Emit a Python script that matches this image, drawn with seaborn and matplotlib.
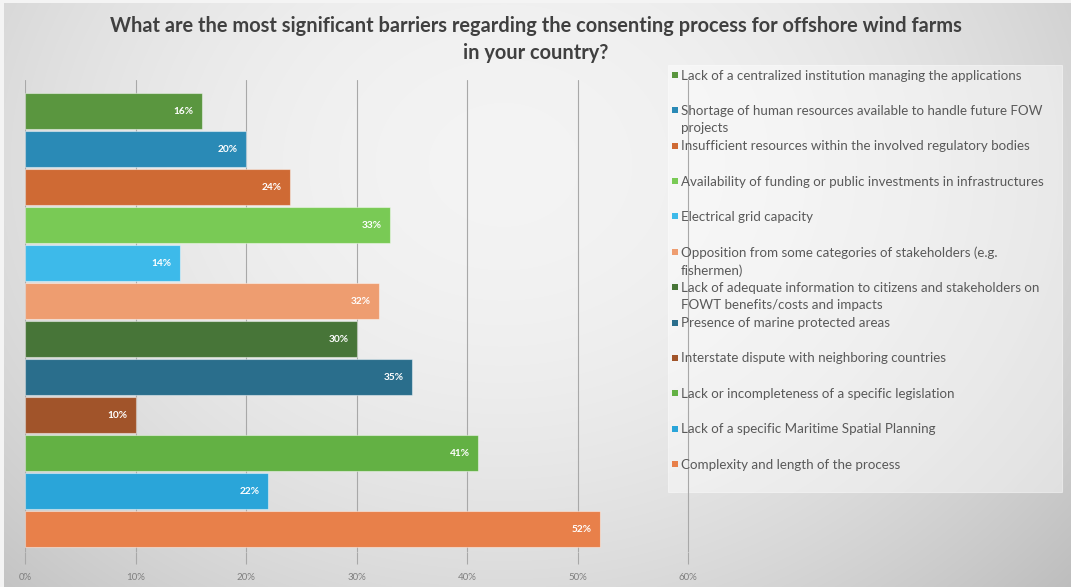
import numpy as np
import pandas as pd
import matplotlib
matplotlib.use("Agg")
import matplotlib.pyplot as plt
from matplotlib.patches import Rectangle
import seaborn as sns

# Survey results: share of respondents naming each barrier (%)
barriers = [
    "Lack of a centralized institution managing the applications",
    "Shortage of human resources available to handle future FOW\nprojects",
    "Insufficient resources within the involved regulatory bodies",
    "Availability of funding or public investments in infrastructures",
    "Electrical grid capacity",
    "Opposition from some categories of stakeholders (e.g.\nfishermen)",
    "Lack of adequate information to citizens and stakeholders on\nFOWT benefits/costs and impacts",
    "Presence of marine protected areas",
    "Interstate dispute with neighboring countries",
    "Lack or incompleteness of a specific legislation",
    "Lack of a specific Maritime Spatial Planning",
    "Complexity and length of the process",
]
shares = [16, 20, 24, 33, 14, 32, 30, 35, 10, 41, 22, 52]
bar_colors = [
    "#5a963f", "#2a8ab6", "#cf6a34", "#79ca55", "#3dbaea", "#ee9d70",
    "#477538", "#2a6e8c", "#a1542a", "#63b144", "#2aa5d9", "#e8804a",
]
x_ticks = [0, 10, 20, 30, 40, 50, 60]

df = pd.DataFrame({"barrier": barriers, "share": shares})

sns.set_theme(style="white")
plt.rcParams["font.family"] = ["Lato", "DejaVu Sans"]

W, H = 1071, 587
fig = plt.figure(figsize=(W / 100, H / 100), dpi=100)

# soft grey slide background, brighter towards the middle
bg = fig.add_axes([0, 0, 1, 1], zorder=-10)
yy, xx = np.mgrid[0:H, 0:W]
rx = (xx - W * 0.47) / (W * 0.60)
ry = (yy - H * 0.28) / (H * 0.90)
r2 = rx ** 2 + ry ** 2
shade = np.clip(0.955 - 0.15 * r2, 0.74, 1.0)
rgb = np.dstack([shade, shade, shade])
bg.imshow(rgb, aspect="auto", extent=(0, 1, 0, 1), interpolation="bilinear")
bg.set_axis_off()

def fx(px):
    return px / W

def fy(py):
    return 1 - py / H

# pale slide margin along the top and left edges
fig.patches.append(Rectangle((0, fy(3)), 1, 3 / H, transform=fig.transFigure,
                             facecolor="#f4f4f4", edgecolor="none", zorder=-5))
fig.patches.append(Rectangle((0, 0), 4 / W, 1, transform=fig.transFigure,
                             facecolor="#f4f4f4", edgecolor="none", zorder=-5))

# legend panel, beneath the grid so the 60% line shows through
fig.patches.append(Rectangle((fx(668), fy(492)), fx(1062) - fx(668), fy(65) - fy(492),
                             transform=fig.transFigure, facecolor="white",
                             alpha=0.45, edgecolor=(1, 1, 1, 0.6), linewidth=0.8,
                             zorder=-2))

ax_top, ax_bot = 80, 552
x0_px, x60_px = 25, 688
x_max = 60.5
ax_w_px = (x60_px - x0_px) * x_max / 60
ax = fig.add_axes([fx(x0_px), fy(ax_bot), ax_w_px / W, (ax_bot - ax_top) / H])
ax.patch.set_alpha(0)

sns.barplot(data=df, y="barrier", x="share", hue="barrier",
            palette=bar_colors, saturation=1, orient="h", width=0.97,
            legend=False, edgecolor=(1, 1, 1, 0.45), linewidth=0.8,
            ax=ax, zorder=3)

ax.set_xlim(0, x_max)
ax.set_ylim(11.605, -0.816)
ax.set_xticks(x_ticks)
ax.set_xticklabels([f"{t}%" for t in x_ticks], fontsize=7, color="#7f7f7f")
ax.set_yticks([])
ax.set_xlabel("")
ax.set_ylabel("")
ax.grid(axis="x", color="#a8a8a8", linewidth=0.8, zorder=0)
ax.set_axisbelow(True)
ax.tick_params(axis="x", length=8.5, width=0.8, color="#a8a8a8",
               direction="out", pad=6.5, bottom=True)
for s in ax.spines.values():
    s.set_visible(False)

for bar, val in zip(ax.patches, shares):
    y = bar.get_y() + bar.get_height() / 2
    ax.text(bar.get_width() - 0.75, y, f"{val}%", ha="right", va="center",
            color="white", fontsize=7.3, fontweight="bold", zorder=4)

fig.text(0.5, fy(26), "What are the most significant barriers regarding the consenting process for offshore wind farms",
         ha="center", va="center", fontsize=14.4, fontweight="bold", color="#404040")
fig.text(0.5, fy(53), "in your country?",
         ha="center", va="center", fontsize=14.4, fontweight="bold", color="#404040")

step = (464 - 75) / 11
for i, (lab, col) in enumerate(zip(barriers, bar_colors)):
    py = 75 + i * step
    fig.patches.append(Rectangle((fx(672), fy(py + 3)), 6 / W, 6 / H,
                                 transform=fig.transFigure, facecolor=col,
                                 edgecolor="none", zorder=3))
    fig.text(fx(681), fy(py - 5.5), lab, ha="left", va="top", fontsize=9.6,
             color="#595959", linespacing=1.5, zorder=3)

fig.savefig("out.png", dpi=100)
